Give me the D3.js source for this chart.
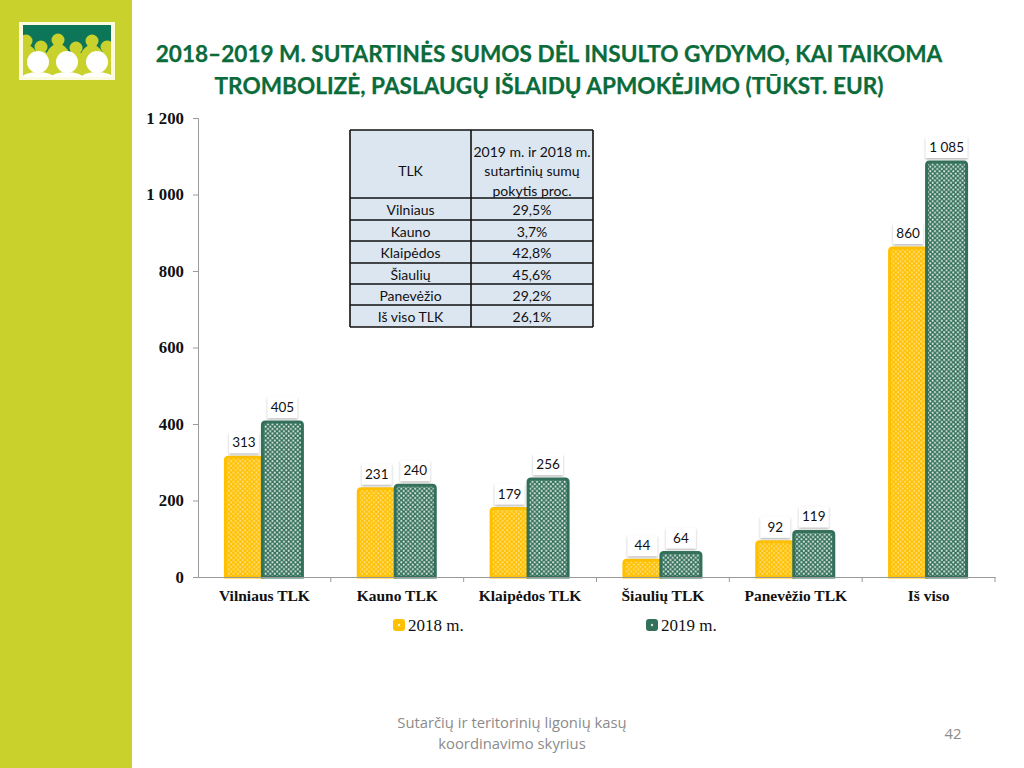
<!DOCTYPE html>
<html lang="lt">
<head>
<meta charset="utf-8">
<title>Sutartinės sumos</title>
<script src="https://d3js.org/d3.v7.min.js"></script>
<style>
  html, body { margin: 0; padding: 0; background: #fff; }
  svg { display: block; }
  .title { font-family: Lato, sans-serif; font-weight: 700; font-size: 22.6px; fill: #0b6b3a; stroke: #0b6b3a; stroke-width: 0.25px; text-anchor: middle; }
  .tick text { font-family: "Liberation Serif", serif; font-weight: 700; fill: #111; }
  .label { font-family: Lato, sans-serif; font-size: 13.5px; fill: #111; text-anchor: middle; }
  .cell { font-family: Lato, sans-serif; font-size: 14px; fill: #111; text-anchor: middle; }
  .legend { font-family: "Liberation Serif", serif; font-size: 17px; fill: #111; }
  .foot { font-family: "Open Sans", sans-serif; font-size: 14.8px; fill: #8b8b8b; text-anchor: middle; }
</style>
</head>
<body>
<svg id="chart" width="1024" height="768"></svg>
<script>
// chart data
var categories = ["Vilniaus TLK", "Kauno TLK", "Klaipėdos TLK", "Šiaulių TLK", "Panevėžio TLK", "Iš viso"];
var values2018 = [313, 231, 179, 44, 92, 860];
var values2019 = [405, 240, 256, 64, 119, 1085];
var seriesNames = ["2018 m.", "2019 m."];
var yTicks = [0, 200, 400, 600, 800, 1000, 1200];
var titleLines = ["2018–2019 M. SUTARTINĖS SUMOS DĖL INSULTO GYDYMO, KAI TAIKOMA",
                  "TROMBOLIZĖ, PASLAUGŲ IŠLAIDŲ APMOKĖJIMO (TŪKST. EUR)"];
var tableNames = ["Vilniaus", "Kauno", "Klaipėdos", "Šiaulių", "Panevėžio", "Iš viso TLK"];
var tableChange = ["29,5%", "3,7%", "42,8%", "45,6%", "29,2%", "26,1%"];
var tableHead = ["2019 m. ir 2018 m.", "sutartinių sumų", "pokytis proc."];
var footLines = ["Sutarčių ir teritorinių ligonių kasų", "koordinavimo skyrius"];
var pageNo = "42";

var colors = ["#ffc000", "#33705a"];
var lime = "#c9d22c";
var svg = d3.select("#chart");
var defs = svg.append("defs");

// dotted fill on the bars
colors.forEach(function(c, i) {
    var p = defs.append("pattern")
        .attr("id", "dots" + i)
        .attr("width", 4.6).attr("height", 4.6)
        .attr("patternUnits", "userSpaceOnUse");
    p.append("rect").attr("width", 4.6).attr("height", 4.6).attr("fill", c);
    p.append("circle").attr("cx", 1.15).attr("cy", 1.15).attr("r", 1.05).attr("fill", "#fff").attr("opacity", i ? 0.85 : 0.5);
    p.append("circle").attr("cx", 3.45).attr("cy", 3.45).attr("r", 1.05).attr("fill", "#fff").attr("opacity", i ? 0.85 : 0.5);
});
var blur = defs.append("filter").attr("id", "soft").attr("x", "-20%").attr("y", "-20%").attr("width", "140%").attr("height", "150%");
blur.append("feDropShadow").attr("dx", 0).attr("dy", 1.5).attr("stdDeviation", 1.2).attr("flood-color", "#888").attr("flood-opacity", 0.6);
defs.append("clipPath").attr("id", "logoClip")
    .append("rect").attr("x", 23).attr("y", 25).attr("width", 88).attr("height", 52);

// side band and logo
svg.append("rect").attr("width", 132).attr("height", 768).attr("fill", lime);
svg.append("rect").attr("x", 19).attr("y", 22).attr("width", 96).attr("height", 58).attr("fill", "#fbfbe0");
var logo = svg.append("g").attr("clip-path", "url(#logoClip)");
logo.append("rect").attr("x", 23).attr("y", 25).attr("width", 88).attr("height", 52).attr("fill", "#0d7558");
[[26, 41], [41, 47], [58, 40], [76, 48], [92, 41], [107, 47]].forEach(function(d) {
    logo.append("circle").attr("cx", d[0]).attr("cy", d[1]).attr("r", 6.5).attr("fill", lime);
    logo.append("ellipse").attr("cx", d[0]).attr("cy", d[1] + 22).attr("rx", 13).attr("ry", 18).attr("fill", lime);
});
[38, 67, 97].forEach(function(cx) {
    logo.append("ellipse").attr("cx", cx).attr("cy", 78).attr("rx", 16).attr("ry", 6).attr("fill", "#fff");
    logo.append("circle").attr("cx", cx).attr("cy", 62).attr("r", 11).attr("fill", "#fff");
});

// title
svg.selectAll("text.title").data(titleLines).enter().append("text")
    .attr("class", "title")
    .attr("x", 549)
    .attr("y", function(d, i) { return 62 + i * 31.5; })
    .text(function(d) { return d; });

// scales
var x = d3.scaleBand().domain(categories).range([198, 995]);
var y = d3.scaleLinear().domain([0, 1200]).range([577, 118]);
var barLeft = [-39, -2];   // offset of each series from the band centre
var barW = [37, 40];

// axes
var yAxis = d3.axisLeft(y).tickValues(yTicks).tickSize(5).tickPadding(9)
    .tickFormat(function(d) { return d3.format(",")(d).replace(",", " "); });
var gy = svg.append("g").attr("transform", "translate(198,0)").call(yAxis);
gy.selectAll("text").style("font-size", "16.8px");
gy.selectAll("line, path").attr("stroke", "#9a9a9a");

// bars first, baseline on top of them
var series = [values2018, values2019];
series.forEach(function(vals, s) {
    svg.append("g").selectAll("path").data(vals).enter().append("path")
        .attr("d", function(d, i) {
            var x0 = x(categories[i]) + x.bandwidth() / 2 + barLeft[s];
            var w = barW[s], top = y(d), r = 3;
            return "M" + x0 + "," + y(0) + "V" + (top + r) + "Q" + x0 + "," + top + " " + (x0 + r) + "," + top +
                   "H" + (x0 + w - r) + "Q" + (x0 + w) + "," + top + " " + (x0 + w) + "," + (top + r) + "V" + y(0) + "Z";
        })
        .attr("fill", "url(#dots" + s + ")")
        .attr("stroke", colors[s])
        .attr("stroke-width", 3);
});

var xAxis = d3.axisBottom(x).tickSize(0).tickPadding(13);
var gx = svg.append("g").attr("transform", "translate(0,577)").call(xAxis);
gx.selectAll("text").style("font-size", "15.5px");
gx.select("path").attr("stroke", "#9a9a9a");
// ticks sit between the categories
gx.selectAll("line.sep").data(categories).enter().append("line")
    .attr("class", "sep")
    .attr("x1", function(d) { return x(d) + x.bandwidth(); })
    .attr("x2", function(d) { return x(d) + x.bandwidth(); })
    .attr("y1", 0).attr("y2", 5)
    .attr("stroke", "#9a9a9a");

// value labels in white boxes
series.forEach(function(vals, s) {
    var g = svg.append("g").selectAll("g").data(vals).enter().append("g")
        .attr("transform", function(d, i) {
            var cx = x(categories[i]) + x.bandwidth() / 2 + barLeft[s] + barW[s] / 2;
            return "translate(" + cx + "," + (y(d) - 15) + ")";
        });
    g.append("rect")
        .attr("x", function(d) { return d >= 1000 ? -21 : -15; })
        .attr("y", -10)
        .attr("width", function(d) { return d >= 1000 ? 42 : 30; })
        .attr("height", 21)
        .attr("fill", "#fff")
        .attr("filter", "url(#soft)");
    g.append("text").attr("class", "label").attr("y", 5)
        .text(function(d) { return d3.format(",")(d).replace(",", " "); });
});

// legend
var legendX = [394, 647];
seriesNames.forEach(function(name, i) {
    svg.append("rect").attr("x", legendX[i]).attr("y", 620).attr("width", 10).attr("height", 10).attr("rx", 2)
        .attr("fill", colors[i]).attr("stroke", colors[i]).attr("stroke-width", 2);
    svg.append("circle").attr("cx", legendX[i] + 5).attr("cy", 625).attr("r", 1.2).attr("fill", "#fff").attr("opacity", 0.8);
    svg.append("text").attr("class", "legend").attr("x", legendX[i] + 14).attr("y", 631).text(name);
});

// small table
var tableX = [350, 471, 593];
var rowY = [130, 198, 220, 241, 263, 284, 305, 327];
svg.append("rect").attr("x", tableX[0]).attr("y", rowY[0]).attr("width", tableX[2] - tableX[0]).attr("height", rowY[7] - rowY[0]).attr("fill", "#dce6f1");
svg.selectAll("line.row").data(rowY).enter().append("line").attr("class", "row")
    .attr("x1", tableX[0]).attr("x2", tableX[2])
    .attr("y1", function(d) { return d; }).attr("y2", function(d) { return d; })
    .attr("stroke", "#111").attr("stroke-width", 1.6);
svg.selectAll("line.col").data(tableX).enter().append("line").attr("class", "col")
    .attr("y1", rowY[0]).attr("y2", rowY[7])
    .attr("x1", function(d) { return d; }).attr("x2", function(d) { return d; })
    .attr("stroke", "#111").attr("stroke-width", 1.6);
svg.append("text").attr("class", "cell").attr("x", 410.5).attr("y", 176).text("TLK");
tableHead.forEach(function(t, i) {
    svg.append("text").attr("class", "cell").attr("x", 532).attr("y", 156.5 + i * 19.5).text(t);
});
tableNames.forEach(function(t, i) {
    var ty = (rowY[i + 1] + rowY[i + 2]) / 2 + 6;
    svg.append("text").attr("class", "cell").attr("x", 410.5).attr("y", ty).text(t);
    svg.append("text").attr("class", "cell").attr("x", 532).attr("y", ty).text(tableChange[i]);
});

// footer
footLines.forEach(function(t, i) {
    svg.append("text").attr("class", "foot").attr("x", 512).attr("y", 728 + i * 20.5).text(t);
});
svg.append("text").attr("class", "foot").attr("x", 953).attr("y", 739).text(pageNo);
</script>
</body>
</html>
